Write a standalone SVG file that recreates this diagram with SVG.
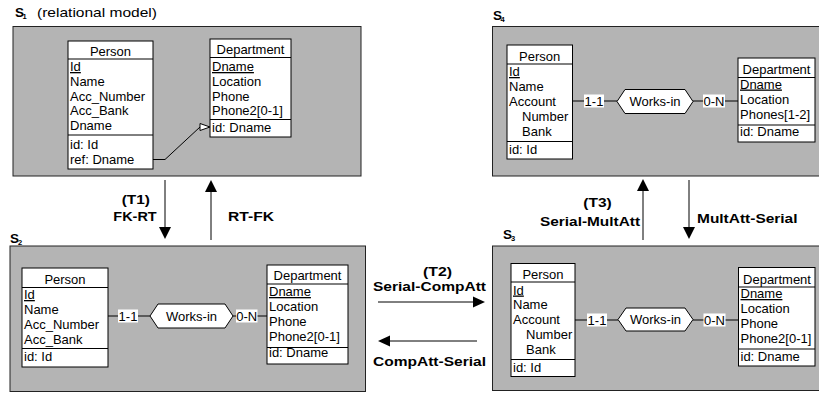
<svg xmlns="http://www.w3.org/2000/svg" width="819" height="394" viewBox="0 0 819 394">
<defs>
<style>
.panel{fill:#b4b4b4;stroke:#222;stroke-width:1}
.box{fill:#fff;stroke:#000;stroke-width:1}
.sep{stroke:#000;stroke-width:1}
.ln{stroke:#000;stroke-width:1;fill:none}
.head{fill:#000;stroke:none}
.lbl{fill:#fff;stroke:none}
text{font-family:"Liberation Sans",Arial,sans-serif;fill:#000}
.t{font-size:13px}
.c{text-anchor:middle}
.u{text-decoration:underline}
.b{font-size:13.5px;font-weight:bold}
.sub{font-size:7.5px;font-weight:bold}
</style>
</defs>

<g id="panels">
<rect class="panel" x="13" y="26.5" width="348" height="149.5"/>
<rect class="panel" x="492.5" y="26.5" width="330" height="149.5"/>
<rect class="panel" x="10" y="246" width="355.5" height="145.5"/>
<rect class="panel" x="492.5" y="246" width="330" height="144.5"/>
</g>

<g id="panel-labels">
<text class="b" x="15" y="17">S</text><text class="sub" x="22.5" y="18.5">1</text>
<text class="t" x="37" y="17" textLength="120" lengthAdjust="spacingAndGlyphs">(relational model)</text>
<text class="b" x="493" y="20">S</text><text class="sub" x="500.5" y="21.5">4</text>
<text class="b" x="10" y="243">S</text><text class="sub" x="18" y="244.5">2</text>
<text class="b" x="503" y="239">S</text><text class="sub" x="511" y="240.5">3</text>
</g>

<g id="connectors">
<!-- S1 foreign key -->
<polyline class="ln" points="153,159.5 165,159.5 200,127"/>
<polygon points="200,123.5 210,127 200,130.5" fill="#fff" stroke="#000" stroke-width="1"/>
<!-- S2 relationship -->
<line class="ln" x1="108" y1="316" x2="150" y2="316"/>
<line class="ln" x1="233" y1="316" x2="267" y2="316"/>
<rect class="lbl" x="118" y="309.5" width="20" height="13"/>
<text class="t c" x="128" y="321">1-1</text>
<rect class="lbl" x="236" y="309.5" width="21.5" height="13"/>
<text class="t c" x="246.7" y="321">0-N</text>
<!-- S4 relationship -->
<line class="ln" x1="572.5" y1="101" x2="617" y2="101"/>
<line class="ln" x1="693" y1="101" x2="738" y2="101"/>
<rect class="lbl" x="584" y="94.5" width="20" height="13"/>
<text class="t c" x="594" y="106">1-1</text>
<rect class="lbl" x="703" y="94.5" width="22" height="13"/>
<text class="t c" x="714" y="106">0-N</text>
<!-- S3 relationship -->
<line class="ln" x1="575" y1="320" x2="618" y2="320"/>
<line class="ln" x1="693" y1="320" x2="738.5" y2="320"/>
<rect class="lbl" x="587" y="313.5" width="20" height="13"/>
<text class="t c" x="597" y="325">1-1</text>
<rect class="lbl" x="703.5" y="313.5" width="22" height="13"/>
<text class="t c" x="714.5" y="325">0-N</text>

<!-- transformation arrows -->
<line class="ln" x1="165" y1="180" x2="165" y2="228"/>
<polygon class="head" points="159,227 171,227 165,239"/>
<line class="ln" x1="211" y1="240" x2="211" y2="191"/>
<polygon class="head" points="205,192 217,192 211,180"/>
<line class="ln" x1="643" y1="240" x2="643" y2="190"/>
<polygon class="head" points="637,191 649,191 643,179"/>
<line class="ln" x1="689" y1="180" x2="689" y2="228"/>
<polygon class="head" points="683,227 695,227 689,239"/>
<line class="ln" x1="378" y1="302" x2="474" y2="302"/>
<polygon class="head" points="473,296.5 473,307.5 485,302"/>
<line class="ln" x1="477" y1="341" x2="389" y2="341"/>
<polygon class="head" points="390,335.5 390,346.5 378,341"/>

<text class="b" x="121.7" y="203.5" textLength="28.3" lengthAdjust="spacingAndGlyphs">(T1)</text>
<text class="b" x="113.3" y="221" textLength="43.4" lengthAdjust="spacingAndGlyphs">FK-RT</text>
<text class="b" x="228" y="221" textLength="46" lengthAdjust="spacingAndGlyphs">RT-FK</text>
<text class="b" x="583.3" y="206.5" textLength="28.4" lengthAdjust="spacingAndGlyphs">(T3)</text>
<text class="b" x="540" y="226" textLength="100" lengthAdjust="spacingAndGlyphs">Serial-MultAtt</text>
<text class="b" x="697" y="223" textLength="100.5" lengthAdjust="spacingAndGlyphs">MultAtt-Serial</text>
<text class="b" x="423" y="275.5" textLength="29" lengthAdjust="spacingAndGlyphs">(T2)</text>
<text class="b" x="373" y="291" textLength="113" lengthAdjust="spacingAndGlyphs">Serial-CompAtt</text>
<text class="b" x="373" y="365.5" textLength="113" lengthAdjust="spacingAndGlyphs">CompAtt-Serial</text>
</g>

<!-- S1 -->
<g id="s1-person">
<rect class="box" x="68" y="41" width="85" height="128"/>
<line class="sep" x1="68" y1="59" x2="153" y2="59"/>
<line class="sep" x1="68" y1="135" x2="153" y2="135"/>
<text class="t c" x="110.5" y="56">Person</text>
<text class="t u" x="70" y="71">Id</text>
<text class="t" x="70" y="86">Name</text>
<text class="t" x="70" y="100.5">Acc_Number</text>
<text class="t" x="70" y="115">Acc_Bank</text>
<text class="t" x="70" y="130">Dname</text>
<text class="t" x="70" y="149">id: Id</text>
<text class="t" x="70" y="163.5">ref: Dname</text>
</g>
<g id="s1-department">
<rect class="box" x="210" y="39" width="81" height="98"/>
<line class="sep" x1="210" y1="57.5" x2="291" y2="57.5"/>
<line class="sep" x1="210" y1="119.5" x2="291" y2="119.5"/>
<text class="t c" x="250.5" y="54">Department</text>
<text class="t u" x="212" y="71">Dname</text>
<text class="t" x="212" y="86">Location</text>
<text class="t" x="212" y="100.5">Phone</text>
<text class="t" x="212" y="115">Phone2[0-1]</text>
<text class="t" x="212" y="131.5">id: Dname</text>
</g>

<!-- S2 -->
<g id="s2-person">
<rect class="box" x="22" y="268" width="86" height="99"/>
<line class="sep" x1="22" y1="287.5" x2="108" y2="287.5"/>
<line class="sep" x1="22" y1="348.5" x2="108" y2="348.5"/>
<text class="t c" x="65" y="283.5">Person</text>
<text class="t u" x="24" y="299">Id</text>
<text class="t" x="24" y="314">Name</text>
<text class="t" x="24" y="329">Acc_Number</text>
<text class="t" x="24" y="344">Acc_Bank</text>
<text class="t" x="24" y="361">id: Id</text>
</g>
<g id="s2-works-in">
<polygon class="box" points="150,316 158,304 225,304 233,316 225,328 158,328"/>
<text class="t c" x="191.5" y="320.5">Works-in</text>
</g>
<g id="s2-department">
<rect class="box" x="267" y="265" width="81" height="99"/>
<line class="sep" x1="267" y1="284" x2="348" y2="284"/>
<line class="sep" x1="267" y1="347.5" x2="348" y2="347.5"/>
<text class="t c" x="307.5" y="280">Department</text>
<text class="t u" x="269" y="296">Dname</text>
<text class="t" x="269" y="311">Location</text>
<text class="t" x="269" y="325.5">Phone</text>
<text class="t" x="269" y="340.5">Phone2[0-1]</text>
<text class="t" x="269" y="357">id: Dname</text>
</g>

<!-- S4 -->
<g id="s4-person">
<rect class="box" x="507" y="45" width="65.5" height="114"/>
<line class="sep" x1="507" y1="64" x2="572.5" y2="64"/>
<line class="sep" x1="507" y1="141.5" x2="572.5" y2="141.5"/>
<text class="t c" x="539.7" y="61">Person</text>
<text class="t u" x="509" y="76">Id</text>
<text class="t" x="509" y="91">Name</text>
<text class="t" x="509" y="106">Account</text>
<text class="t" x="522" y="121">Number</text>
<text class="t" x="522" y="136">Bank</text>
<text class="t" x="509" y="153.5">id: Id</text>
</g>
<g id="s4-works-in">
<polygon class="box" points="617,101.5 625,89.5 685,89.5 693,101.5 685,113.5 625,113.5"/>
<text class="t c" x="655" y="106">Works-in</text>
</g>
<g id="s4-department">
<rect class="box" x="738" y="58" width="77" height="84"/>
<line class="sep" x1="738" y1="77.5" x2="815" y2="77.5"/>
<line class="sep" x1="738" y1="125" x2="815" y2="125"/>
<text class="t c" x="776.5" y="73.5">Department</text>
<text class="t u" x="740" y="88.5">Dname</text>
<text class="t" x="740" y="103.5">Location</text>
<text class="t" x="740" y="118.5">Phones[1-2]</text>
<text class="t" x="740" y="136">id: Dname</text>
</g>

<!-- S3 -->
<g id="s3-person">
<rect class="box" x="511" y="263.5" width="64" height="113"/>
<line class="sep" x1="511" y1="282" x2="575" y2="282"/>
<line class="sep" x1="511" y1="359.5" x2="575" y2="359.5"/>
<text class="t c" x="543" y="279">Person</text>
<text class="t u" x="513" y="294.5">Id</text>
<text class="t" x="513" y="309">Name</text>
<text class="t" x="513" y="324">Account</text>
<text class="t" x="526" y="339">Number</text>
<text class="t" x="526" y="354">Bank</text>
<text class="t" x="513" y="372">id: Id</text>
</g>
<g id="s3-works-in">
<polygon class="box" points="618,319.5 626,308 685,308 693,319.5 685,331 626,331"/>
<text class="t c" x="655.5" y="324">Works-in</text>
</g>
<g id="s3-department">
<rect class="box" x="738.5" y="267.5" width="76.5" height="98.5"/>
<line class="sep" x1="738.5" y1="287" x2="815" y2="287"/>
<line class="sep" x1="738.5" y1="349" x2="815" y2="349"/>
<text class="t c" x="777" y="283.5">Department</text>
<text class="t u" x="740.5" y="298">Dname</text>
<text class="t" x="740.5" y="313">Location</text>
<text class="t" x="740.5" y="328">Phone</text>
<text class="t" x="740.5" y="343">Phone2[0-1]</text>
<text class="t" x="740.5" y="360.5">id: Dname</text>
</g>
</svg>
